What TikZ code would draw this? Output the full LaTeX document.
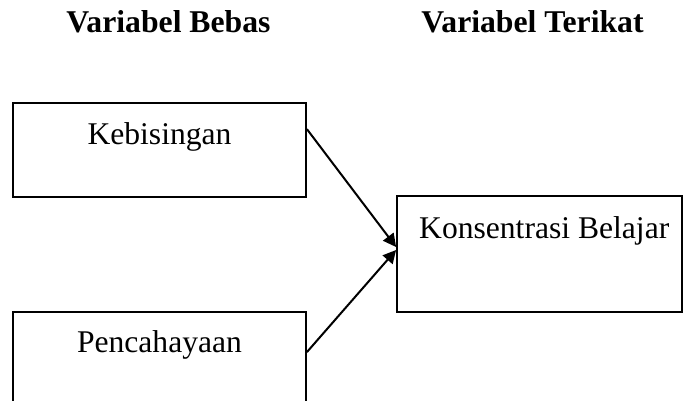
\documentclass[tikz,border=0pt]{standalone}
\usepackage{fontspec}
\setmainfont{Liberation Serif}
\usetikzlibrary{arrows.meta}
\begin{document}
\begin{tikzpicture}[x=1pt,y=-1pt,
  varbox/.style={draw=black,line width=1.8pt,rectangle,inner sep=0pt},
  boxtext/.style={anchor=base,inner sep=0pt,font=\fontsize{31.6}{36}\selectfont},
  headtext/.style={anchor=base,inner sep=0pt,font=\fontsize{31.7}{36}\selectfont\bfseries},
  link/.style={line width=2pt,-{Triangle[length=13pt,width=13pt]}}]
\useasboundingbox (0,0) rectangle (683,400);
\clip (0,0) rectangle (683,400);

% column headings
\node[headtext] (hbebas) at (168.5,32) {Variabel Bebas};
\node[headtext] (hterikat) at (532.5,32) {Variabel Terikat};

% independent variables
\node[varbox,minimum width=293pt,minimum height=94pt] (kebisingan) at (159.5,150) {};
\node[boxtext] (tkebisingan) at (159.5,144) {Kebisingan};

\node[varbox,minimum width=293pt,minimum height=94pt] (pencahayaan) at (159.5,359) {};
\node[boxtext] (tpencahayaan) at (159.5,352) {Pencahayaan};

% dependent variable
\node[varbox,minimum width=285pt,minimum height=116pt] (konsentrasi) at (539.5,254) {};
\node[boxtext,anchor=base west] (tkonsentrasi) at (419,238) {Konsentrasi Belajar};

% influence arrows
\draw[link] ([yshift=-27pt]kebisingan.north east) -- ([yshift=7pt]konsentrasi.west);
\draw[link] ([yshift=-41pt]pencahayaan.north east) -- ([yshift=4pt]konsentrasi.west);
\end{tikzpicture}
\end{document}
